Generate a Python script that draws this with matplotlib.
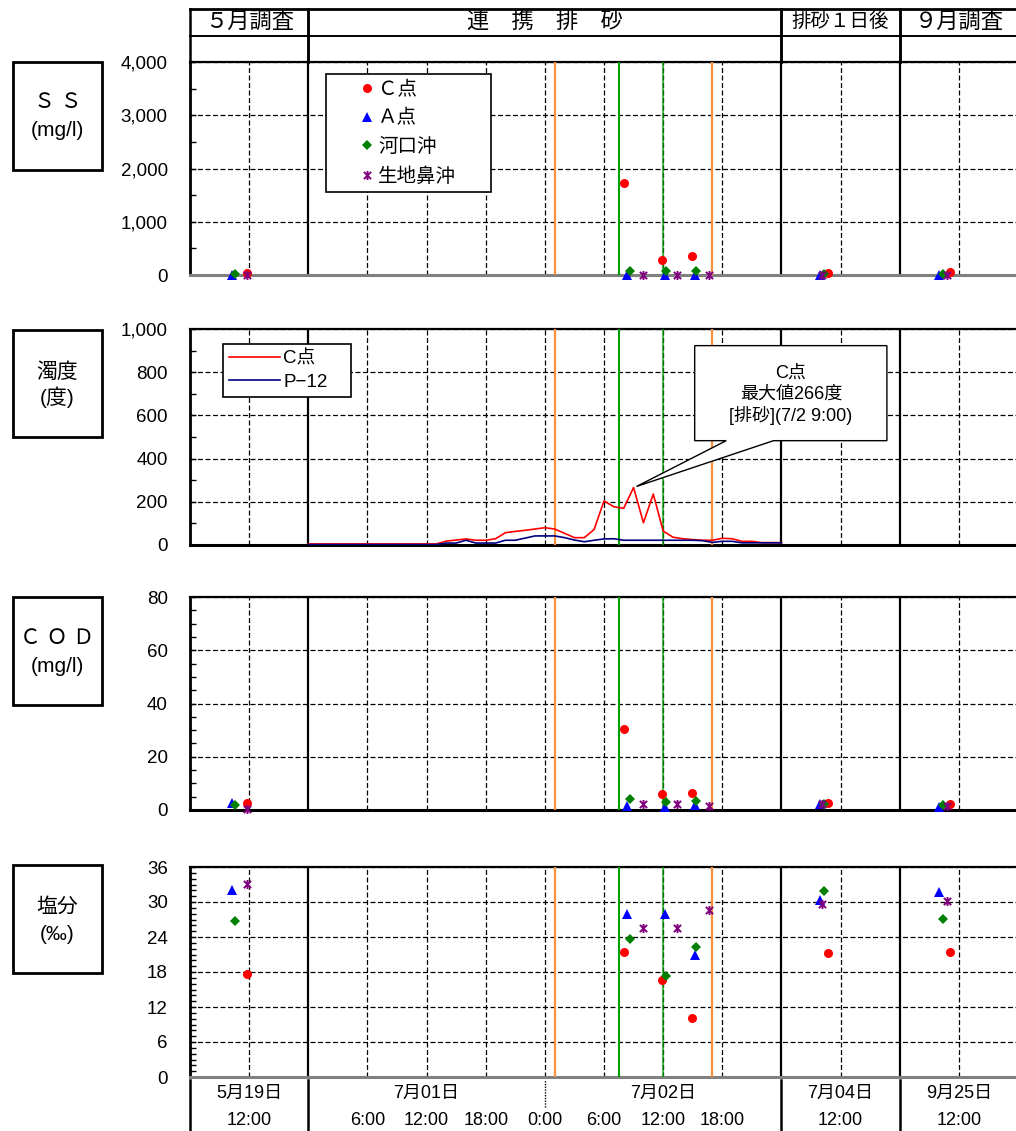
import matplotlib
matplotlib.use("Agg")
import matplotlib.pyplot as plt
from matplotlib.lines import Line2D
from matplotlib.patches import Rectangle, Polygon
from matplotlib.path import Path
from matplotlib.ticker import MultipleLocator, StrMethodFormatter

# ── data ────────────────────────────────────────────────────────────────
# x = hours from 7/01 0:00.  The May and September blocks sit on the same
# 6-hour cell grid (12:00 at the block centre), like the original sheet.
stations = ["Ｃ点", "Ａ点", "河口沖", "生地鼻沖"]

t_c = [-6.25, 32.0, 35.9, 38.9, 52.7, 65.1]
t_a = [-7.7, 32.3, 36.2, 39.2, 51.9, 64.0]
t_k = [-7.4, 32.6, 36.3, 39.3, 52.3, 64.4]
t_s = [-6.25, 34.0, 37.4, 40.7, 52.1, 64.8]

ss_c = [43, 1730, 280, 358, 40, 50]
ss_a = [5, 5, 5, 5, 5, 5]
ss_k = [10, 80, 75, 75, 10, 10]
ss_s = [3, 5, 5, 5, 5, 5]

cod_c = [2.5, 30.4, 6.1, 6.2, 2.5, 2.4]
cod_a = [2.5, 1.5, 1.0, 1.9, 2.1, 1.2]
cod_k = [1.8, 4.1, 3.1, 3.5, 2.3, 1.9]
cod_s = [0.3, 2.4, 2.4, 1.6, 2.4, 1.6]

sal_c = [17.7, 21.5, 16.7, 10.2, 21.3, 21.5]
sal_a = [32.0, 28.0, 28.0, 21.0, 30.3, 31.7]
sal_k = [26.8, 23.7, 17.4, 22.3, 31.9, 27.1]
sal_s = [33.1, 25.6, 25.6, 28.6, 29.7, 30.2]

# hourly turbidity, 7/01 0:00 .. 7/03 0:00
turb_hours = [0, 1, 2, 3, 4, 5, 6, 7, 8, 9, 10, 11, 12, 13, 14, 15, 16, 17,
              18, 19, 20, 21, 22, 23, 24, 25, 26, 27, 28, 29, 30, 31, 32, 33,
              34, 35, 36, 37, 38, 39, 40, 41, 42, 43, 44, 45, 46, 47, 48]
turb_c = [5, 5, 5, 5, 5, 5, 5, 5, 5, 5, 5, 5, 5, 5, 18, 23, 28, 22,
          22, 29, 57, 63, 68, 74, 80, 74, 54, 34, 34, 72, 204, 177, 170, 266,
          103, 236, 65, 36, 29, 25, 22, 22, 31, 29, 17, 17, 11, 11, 11]
turb_p = [2, 2, 2, 2, 2, 2, 2, 2, 2, 2, 2, 2, 2, 2, 9, 9, 22, 9,
          9, 9, 22, 22, 32, 42, 42, 42, 34, 23, 15, 22, 28, 29, 22, 22,
          22, 22, 22, 22, 22, 22, 20, 12, 17, 17, 10, 10, 10, 10, 10]

# discharge events (hours)
orange_times = [25, 41]
green_times = [31.5, 36]

sections = [(-12, 0, "５月調査"), (0, 48, "連　携　排　砂"),
            (48, 60, "排砂１日後"), (60, 72, "９月調査")]
boundaries = [0, 48, 60]
grid_hours = [-6, 6, 12, 18, 24, 30, 36, 42, 54, 66]
date_pos = [-6, 12, 36, 54, 66]
date_labels = ["5月19日", "7月01日", "7月02日", "7月04日", "9月25日"]
time_pos = [-6, 6, 12, 18, 24, 30, 36, 42, 54, 66]
time_labels = ["12:00", "6:00", "12:00", "18:00", "0:00", "6:00",
               "12:00", "18:00", "12:00", "12:00"]

# ── style ───────────────────────────────────────────────────────────────
plt.rcParams["font.family"] = ["Liberation Sans", "Noto Sans CJK JP", "DejaVu Sans"]

W, H = 1016, 1131
X0, X1 = 190, 1018          # plot area runs just past the right edge
XLIM = (-12, 72)
DASH = (0, (4, 2))
RED, BLUE, GREEN, PURPLE = "#FF0000", "#0000FF", "#008000", "#800080"
ORANGE, EVGREEN = "#F7913D", "#00A000"

star = Path([(-1, -1), (1, 1), (-1, 1), (1, -1), (0, -1.25), (0, 1.25)],
            [Path.MOVETO, Path.LINETO, Path.MOVETO, Path.LINETO,
             Path.MOVETO, Path.LINETO])
MARK = [dict(marker="o", color=RED, ms=6.5, mew=0),
        dict(marker="^", color=BLUE, ms=6.5, mew=0),
        dict(marker="D", color=GREEN, ms=4.8, mew=0),
        dict(marker=star, color=PURPLE, ms=6.5, mew=1.4, mfc="none")]


def fx(px):
    return px / W


def fy(py):
    return 1 - py / H


fig = plt.figure(figsize=(W / 100, H / 100), dpi=100)


def make_axes(top, bottom, ymax, major, minor, bottom_color):
    ax = fig.add_axes([fx(X0), fy(bottom), fx(X1) - fx(X0), (bottom - top) / H])
    ax.set_xlim(*XLIM)
    ax.set_ylim(0, ymax)
    ax.set_xticks(grid_hours)
    ax.yaxis.set_major_locator(MultipleLocator(major))
    ax.yaxis.set_minor_locator(MultipleLocator(minor))
    ax.yaxis.set_major_formatter(StrMethodFormatter("{x:,.0f}"))
    ax.tick_params(axis="x", length=0, labelbottom=False)
    ax.tick_params(axis="y", which="both", direction="in", length=4,
                   width=1, labelsize=13.5, pad=16)
    ax.grid(True, which="major", linestyle=DASH, color="k", lw=0.9)
    ax.set_axisbelow(True)
    for t in boundaries:
        ax.axvline(t, color="k", lw=1.6, zorder=2)
    for t in orange_times:
        ax.axvline(t, color=ORANGE, lw=1.6, zorder=3)
    ax.axvline(green_times[0], color=EVGREEN, lw=1.5, zorder=3)
    ax.axvline(green_times[1], color=EVGREEN, lw=1.5, alpha=0.7, zorder=3)
    ax.spines["right"].set_visible(False)
    ax.spines["top"].set_linewidth(1.6)
    ax.spines["left"].set_linewidth(2.0)
    ax.spines["bottom"].set_linewidth(2.2)
    ax.spines["bottom"].set_color(bottom_color)
    return ax


def station_points(ax, series):
    for (t, v), m in zip(series, MARK):
        ax.plot(t, v, ls="none", clip_on=False, zorder=6, **m)


ax_ss = make_axes(62, 275, 4000, 1000, 500, "#808080")
ax_tb = make_axes(329, 545, 1000, 200, 100, "k")
ax_cod = make_axes(597, 810, 80, 20, 5, "k")
ax_sal = make_axes(867, 1077, 36, 6, 1, "#808080")

station_points(ax_ss, [(t_c, ss_c), (t_a, ss_a), (t_k, ss_k), (t_s, ss_s)])
station_points(ax_cod, [(t_c, cod_c), (t_a, cod_a), (t_k, cod_k), (t_s, cod_s)])
station_points(ax_sal, [(t_c, sal_c), (t_a, sal_a), (t_k, sal_k), (t_s, sal_s)])

# SS legend
handles = [Line2D([], [], ls="none", **m) for m in MARK]
leg = ax_ss.legend(handles, stations, loc="upper left",
                   bbox_to_anchor=(0.164, 0.372, 0.199, 0.570), mode="expand",
                   borderaxespad=0, borderpad=0.33, labelspacing=0.55,
                   handlelength=3.57, handletextpad=-1.22, numpoints=1,
                   fancybox=False, edgecolor="k", framealpha=1, fontsize=14)
leg.get_frame().set_linewidth(1.2)
leg.set_zorder(8)

# turbidity lines
ax_tb.plot(turb_hours, turb_c, color=RED, lw=1.2, zorder=4, label="C点")
ax_tb.plot(turb_hours, turb_p, color="#000080", lw=1.2, zorder=4, label="P−12")
leg2 = ax_tb.legend(loc="upper left", bbox_to_anchor=(0.0395, 0.718, 0.155, 0.211),
                    mode="expand", borderaxespad=0, borderpad=0.33,
                    labelspacing=0.3, handlelength=2.7, handletextpad=0.2,
                    fancybox=False, edgecolor="k", framealpha=1, fontsize=13.5)
leg2.get_frame().set_linewidth(1.2)
leg2.set_zorder(8)

# callout for the maximum
i_max = turb_c.index(max(turb_c))
tip = (turb_hours[i_max] + 0.3, turb_c[i_max] + 5)
bx0, bx1, by0, by1 = 39.2, 58.7, 483, 923
callout = Polygon([(bx0, by1), (bx1, by1), (bx1, by0), (47.2, by0), tip,
                   (42.4, by0), (bx0, by0)], closed=True, facecolor="white",
                  edgecolor="k", lw=1.0, zorder=7)
ax_tb.add_patch(callout)
ax_tb.text((bx0 + bx1) / 2, 694, "C点\n最大値266度\n[排砂](7/2 9:00)",
           ha="center", va="center", fontsize=13, linespacing=1.25, zorder=8)

# ── header table ────────────────────────────────────────────────────────
hdr = fig.add_axes([fx(X0), fy(62), fx(X1) - fx(X0), (62 - 9) / H])
hdr.set_xlim(*XLIM)
hdr.set_ylim(0, 2)
hdr.axis("off")
hdr.plot(XLIM, [2, 2], color="k", lw=2.0, clip_on=False)
hdr.plot(XLIM, [1, 1], color="k", lw=1.4, clip_on=False)
for x0, x1, label in sections:
    for xb in (x0, x1):
        hdr.plot([xb, xb], [0, 2], color="k", lw=1.8, clip_on=False)
    hdr.text((x0 + x1) / 2, 1.5, label, ha="center", va="center",
             fontsize=14 if x0 == 48 else 16)
# right border of the last header box, just inside the picture
hdr.plot([71.85, 71.85], [0, 2], color="k", lw=1.8, clip_on=False)

# ── bottom label table ──────────────────────────────────────────────────
tbl = fig.add_axes([fx(X0), 0, fx(X1) - fx(X0), (H - 1077) / H])
tbl.set_xlim(*XLIM)
tbl.set_ylim(0, 1)
tbl.axis("off")
for xb in [-12] + boundaries:
    tbl.plot([xb, xb], [0, 0.944], color="k", lw=1.8, clip_on=False)
tbl.plot([24, 24], [0.444, 0.944], color="k", lw=1.0, ls=(0, (1, 1)))
for x, s in zip(date_pos, date_labels):
    tbl.text(x, 0.70, s, ha="center", va="center", fontsize=13)
for x, s in zip(time_pos, time_labels):
    tbl.text(x, 0.20, s, ha="center", va="center", fontsize=13)

# ── left parameter boxes ────────────────────────────────────────────────
boxes = [(62, 170, ["Ｓ Ｓ", "(mg/l)"], [103, 130]),
         (330, 437, ["濁度", "(度)"], [372, 397]),
         (597, 705, ["Ｃ Ｏ Ｄ", "(mg/l)"], [639, 667]),
         (865, 973, ["塩分", "(‰)"], [907, 935])]
for top, bottom, lines, ys in boxes:
    fig.patches.append(Rectangle((fx(13), fy(bottom)), fx(102) - fx(13),
                                 (bottom - top) / H, transform=fig.transFigure,
                                 fill=False, edgecolor="k", lw=2.0))
    for s, y in zip(lines, ys):
        fig.text(fx(57.5), fy(y), s, ha="center", va="center", fontsize=15)

fig.savefig("out.png", dpi=100)
